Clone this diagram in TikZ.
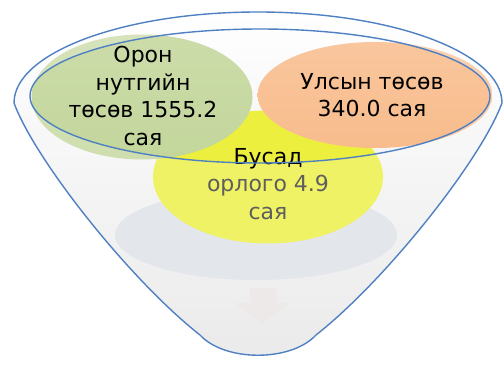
\documentclass[tikz,border=0pt]{standalone}
\usepackage{fontspec}
\setmainfont{DejaVu Sans}
\usetikzlibrary{shapes.geometric}
\definecolor{funnelblue}{HTML}{4F80C2}
\definecolor{leafgreen}{HTML}{C3D69B}
\definecolor{peach}{HTML}{F8BC8C}
\definecolor{lemon}{HTML}{ECEF3E}
\definecolor{mist}{HTML}{DCE0E6}
\definecolor{greytext}{HTML}{5E5E5E}
\tikzset{
    blob/.style={ellipse,inner sep=0pt},
    words/.style={align=center,font=\fontsize{22}{27.5}\selectfont},
    rimline/.style={draw=funnelblue,line width=1.4pt},
    funnelpath/.style={insert path={
        (14,103) arc[start angle=180,end angle=360,x radius=244,y radius=91]
        .. controls (481,160) and (386,280) .. (316,335)
        .. controls (291,362) and (225,362) .. (200,335)
        .. controls (130,280) and (35,160) .. (14,103) -- cycle}}
}

\begin{document}
\begin{tikzpicture}[x=1pt,y=-1pt]

    \useasboundingbox (0,0) rectangle (504,366);

    % funnel body
    \path[funnelpath,top color=white,bottom color=black!10];

    \node[blob,fill=mist,minimum width=282,minimum height=90] (shadow) at (256,235) {};

    \node[blob,fill=lemon,minimum width=230,minimum height=133] (other) at (268,177) {};
    \node[blob,top color=leafgreen!85!white,bottom color=leafgreen,minimum width=221,minimum height=125] (local) at (142,97) {};
    \node[blob,top color=peach!85!white,bottom color=peach,minimum width=235,minimum height=106] (state) at (375,95) {};

    % glass front of the funnel
    \path[funnelpath,fill=white,fill opacity=.2,even odd rule] (260,96) ellipse[x radius=230,y radius=67];

    % little arrow at the spout
    \path[fill=red!20!black!9,fill opacity=.8] (250,288) -- (277,288) -- (277,303) -- (289,303)
        -- (262,324) -- (235,303) -- (250,303) -- cycle;

    \node[words] (localtxt) at (143,96) {Орон\\нутгийн\\төсөв 1555.2\\сая};
    \node[words] (statetxt) at (372,95) {Улсын төсөв\\340.0 сая};
    \node[words] (othertxt) at (268,184) {Бусад\\\textcolor{greytext}{орлого 4.9}\\\textcolor{greytext}{сая}};

    % outlines
    \path[funnelpath,rimline];
    \node[blob,rimline,minimum width=460,minimum height=134] (mouth) at (260,96) {};

\end{tikzpicture}
\end{document}
